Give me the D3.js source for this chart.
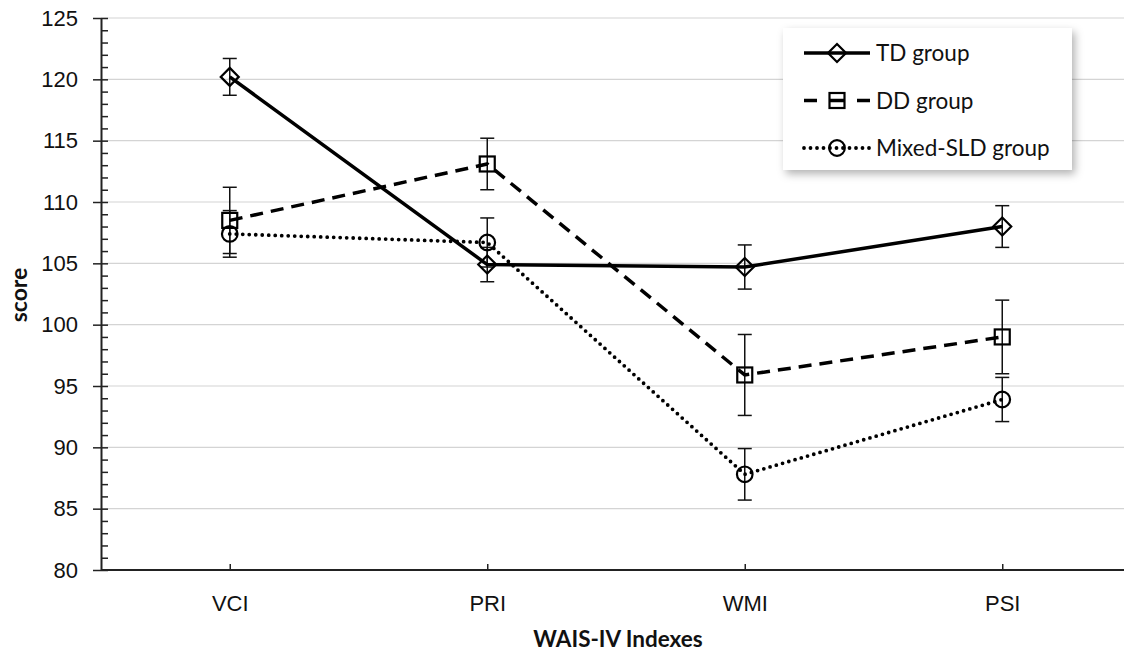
<!DOCTYPE html>
<html>
<head>
<meta charset="utf-8">
<script src="https://cdn.jsdelivr.net/npm/d3@7"></script>
<style>
  body { margin: 0; background: #fff; }
  svg { display: block; font-family: Lato, "Open Sans", sans-serif; }
  .tick text { fill: #111; }
</style>
</head>
<body>
<svg id="chart" width="1124" height="651"></svg>
<script>

// Chart data
const categories = ["VCI", "PRI", "WMI", "PSI"];
const tdMeans = [120.2, 104.9, 104.7, 108.0];
const tdErr = [1.5, 1.4, 1.8, 1.7];
const ddMeans = [108.5, 113.1, 95.9, 99.0];
const ddErr = [2.7, 2.1, 3.3, 3.0];
const mixedMeans = [107.4, 106.7, 87.8, 93.9];
const mixedErr = [1.9, 2.0, 2.1, 1.8];
const groupNames = ["TD group", "DD group", "Mixed-SLD group"];
const yMajorTicks = [80, 85, 90, 95, 100, 105, 110, 115, 120, 125];

const svg = d3.select("#chart");

// Scales
const x = d3.scalePoint()
    .domain(categories)
    .range([101, 1131])
    .padding(0.5);
const y = d3.scaleLinear()
    .domain([80, 125])
    .range([570, 18]);

// Gridlines
svg.append("g")
    .selectAll("line")
    .data(yMajorTicks.slice(1))
    .enter()
    .append("line")
    .attr("x1", 101)
    .attr("x2", 1124)
    .attr("y1", (d) => y(d))
    .attr("y2", (d) => y(d))
    .attr("stroke", "#d4d4d4")
    .attr("stroke-width", 1.2);

// Minor ticks (inside)
const minorAxis = d3.axisRight(y)
    .tickValues(d3.range(80, 126, 1))
    .tickSize(7)
    .tickFormat("");
svg.append("g")
    .attr("transform", "translate(101,0)")
    .call(minorAxis)
    .call((g) => g.select(".domain").remove())
    .call((g) => g.selectAll(".tick line").attr("stroke", "#222").attr("stroke-width", 1.5));

// Y axis
const yAxis = d3.axisLeft(y)
    .tickValues(yMajorTicks)
    .tickSizeInner(8)
    .tickSizeOuter(0)
    .tickPadding(15);
svg.append("g")
    .attr("transform", "translate(101,0)")
    .call(yAxis)
    .call((g) => g.select(".domain").attr("stroke", "#222").attr("stroke-width", 2))
    .call((g) => g.selectAll(".tick line").attr("stroke", "#222").attr("stroke-width", 1.5))
    .call((g) => g.selectAll(".tick text").style("font-size", "22px"));

// X axis
const xAxis = d3.axisBottom(x)
    .tickSizeInner(-6)
    .tickSizeOuter(0)
    .tickPadding(25);
svg.append("g")
    .attr("transform", "translate(0,570)")
    .call(xAxis)
    .call((g) => g.select(".domain").attr("d", "M101,0H1124").attr("stroke", "#222").attr("stroke-width", 2))
    .call((g) => g.selectAll(".tick line").attr("stroke", "#222").attr("stroke-width", 1.5))
    .call((g) => g.selectAll(".tick text").style("font-size", "22px"));

// Axis titles
svg.append("text")
    .attr("x", 618)
    .attr("y", 647)
    .attr("text-anchor", "middle")
    .style("font-size", "22.5px")
    .style("font-weight", "bold")
    .attr("fill", "#111")
    .text("WAIS-IV Indexes");
svg.append("text")
    .attr("transform", "translate(27,295) rotate(-90)")
    .attr("text-anchor", "middle")
    .style("font-size", "23px")
    .style("font-weight", "bold")
    .attr("fill", "#111")
    .text("score");

// Series setup
const series = [
    { name: groupNames[0], means: tdMeans, err: tdErr, dash: null, legendDash: null, width: 3.5, marker: "diamond", cap: "butt" },
    { name: groupNames[1], means: ddMeans, err: ddErr, dash: "13,8", legendDash: "13,13,14,13,13", width: 3.5, marker: "square", cap: "butt" },
    { name: groupNames[2], means: mixedMeans, err: mixedErr, dash: "0,6.5", legendDash: "0,6.5", width: 3.8, marker: "circle", cap: "round" }
];

/** Draw a marker symbol at a point */
function drawMarker(g, type, cx, cy) {
    if (type === "diamond") {
        g.append("path")
            .attr("d", `M${cx},${cy - 9}L${cx + 9},${cy}L${cx},${cy + 9}L${cx - 9},${cy}Z`)
            .attr("fill", "none").attr("stroke", "#000").attr("stroke-width", 2.2);
    } else if (type === "square") {
        g.append("rect")
            .attr("x", cx - 7.5).attr("y", cy - 7.5)
            .attr("width", 15).attr("height", 15)
            .attr("fill", "none").attr("stroke", "#000").attr("stroke-width", 2.2);
    } else {
        g.append("circle")
            .attr("cx", cx).attr("cy", cy).attr("r", 7.8)
            .attr("fill", "none").attr("stroke", "#000").attr("stroke-width", 2.2);
    }
}

const line = d3.line()
    .x((d, i) => x(categories[i]))
    .y((d) => y(d));

// Error bars
series.forEach((s) => {
    const g = svg.append("g");
    s.means.forEach((m, i) => {
        const cx = x(categories[i]);
        const lo = y(m - s.err[i]), hi = y(m + s.err[i]);
        g.append("line").attr("x1", cx).attr("x2", cx).attr("y1", lo).attr("y2", hi)
            .attr("stroke", "#111").attr("stroke-width", 1.5);
        [lo, hi].forEach((yy) => {
            g.append("line").attr("x1", cx - 7).attr("x2", cx + 7).attr("y1", yy).attr("y2", yy)
                .attr("stroke", "#111").attr("stroke-width", 1.5);
        });
    });
});

// Lines and markers
series.forEach((s) => {
    svg.append("path")
        .datum(s.means)
        .attr("d", line)
        .attr("fill", "none")
        .attr("stroke", "#000")
        .attr("stroke-width", s.width)
        .attr("stroke-linecap", s.cap)
        .attr("stroke-dasharray", s.dash);
    const g = svg.append("g");
    s.means.forEach((m, i) => drawMarker(g, s.marker, x(categories[i]), y(m)));
});

// Legend
const defs = svg.append("defs");
const filter = defs.append("filter").attr("id", "shadow")
    .attr("x", "-10%").attr("y", "-10%").attr("width", "130%").attr("height", "130%");
filter.append("feDropShadow")
    .attr("dx", 3).attr("dy", 4).attr("stdDeviation", 4)
    .attr("flood-color", "#000").attr("flood-opacity", 0.3);

const legend = svg.append("g");
legend.append("rect")
    .attr("x", 783).attr("y", 28)
    .attr("width", 289).attr("height", 142)
    .attr("fill", "#fff")
    .attr("filter", "url(#shadow)");

series.forEach((s, i) => {
    const ly = 53 + i * 47.5;
    legend.append("line")
        .attr("x1", 804).attr("x2", 870).attr("y1", ly).attr("y2", ly)
        .attr("stroke", "#000")
        .attr("stroke-width", s.width)
        .attr("stroke-linecap", s.cap)
        .attr("stroke-dasharray", s.legendDash);
    drawMarker(legend, s.marker, 837, ly);
    legend.append("text")
        .attr("x", 876).attr("y", ly + 8)
        .style("font-size", "22.5px")
        .attr("fill", "#111")
        .text(s.name);
});

</script>
</body>
</html>
